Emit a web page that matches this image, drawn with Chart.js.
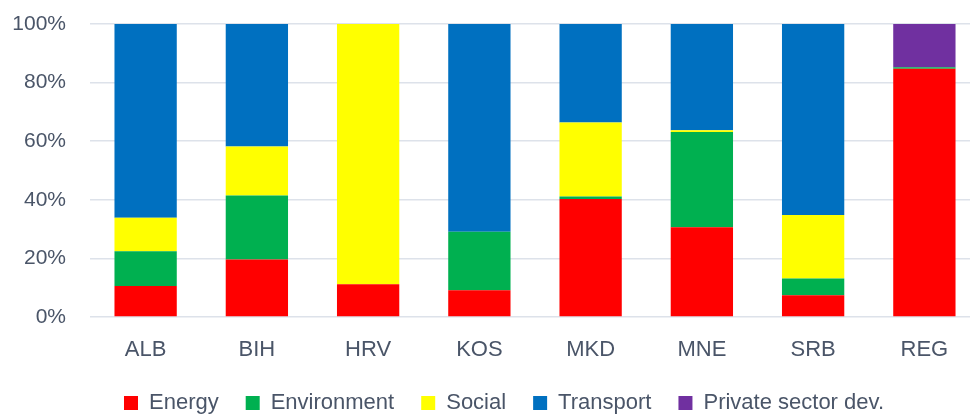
<!DOCTYPE html>
<html>
<head>
<meta charset="utf-8">
<script src="https://cdn.jsdelivr.net/npm/chart.js@4"></script>
<style>
  html, body { margin: 0; padding: 0; background: #fff; overflow: hidden; }
  #wrap { width: 980px; height: 424px; position: relative; }
</style>
</head>
<body>
<div id="wrap"><canvas id="shareChart"></canvas></div>
<script>
const countries = ["ALB", "BIH", "HRV", "KOS", "MKD", "MNE", "SRB", "REG"];
const energy = [10.6, 19.6, 11.2, 9.1, 40.3, 30.6, 7.4, 84.7];
const environment = [11.8, 21.9, 0, 20.0, 0.8, 32.5, 5.7, 0.5];
const social = [11.5, 16.7, 88.8, 0, 25.3, 0.6, 21.7, 0];
const transport = [66.1, 41.8, 0, 70.9, 33.6, 36.3, 65.2, 0];
const privateSector = [0, 0, 0, 0, 0, 0, 0, 14.8];
const yTicks = [0, 20, 40, 60, 80, 100];

const textColor = "#4a5568";
const fontFamily = "'Liberation Sans', Arial, sans-serif";

function makeSet(label, data, color) {
  return {
    label,
    data,
    backgroundColor: color,
    borderWidth: 0,
    barPercentage: 0.56,
    categoryPercentage: 1.0,
  };
}

// nudge the legend right, like the original sits a bit off-centre
const legendShift = {
  id: "legendShift",
  afterLayout(chart) {
    if (chart.legend) {
      chart.legend.left += 14;
      chart.legend.right += 14;
    }
  },
};

new Chart(document.getElementById("shareChart"), {
  type: "bar",
  data: {
    labels: countries,
    datasets: [
      makeSet("Energy", energy, "#ff0000"),
      makeSet("Environment", environment, "#00b050"),
      makeSet("Social", social, "#ffff00"),
      makeSet("Transport", transport, "#0070c0"),
      makeSet("Private sector dev.", privateSector, "#7030a0"),
    ],
  },
  plugins: [legendShift],
  options: {
    responsive: true,
    maintainAspectRatio: false,
    animation: false,
    layout: { padding: { top: 0, left: 0, right: 0, bottom: 0 } },
    plugins: {
      tooltip: { enabled: false },
      legend: {
        position: "bottom",
        labels: {
          color: textColor,
          boxWidth: 14,
          boxHeight: 14,
          padding: 27,
          font: { family: fontFamily, size: 22, lineHeight: 1 },
        },
      },
    },
    scales: {
      x: {
        stacked: true,
        grid: { display: false },
        border: { display: false },
        afterFit: (axis) => {
          axis.height = 48;
        },
        ticks: {
          color: textColor,
          padding: 14,
          font: { family: fontFamily, size: 22, lineHeight: 1 },
        },
      },
      y: {
        stacked: true,
        min: 0,
        max: 100,
        afterBuildTicks: (axis) => {
          axis.ticks = yTicks.map((v) => ({ value: v }));
        },
        afterFit: (axis) => {
          axis.width = 90;
          axis.paddingTop = 24;
          axis.paddingBottom = 0;
        },
        grid: { color: "#dde2ea", lineWidth: 1.5, drawTicks: false },
        border: { display: false },
        ticks: {
          color: textColor,
          padding: 24,
          font: { family: fontFamily, size: 21 },
          callback: (v) => v + "%",
        },
      },
    },
  },
});
</script>
</body>
</html>
